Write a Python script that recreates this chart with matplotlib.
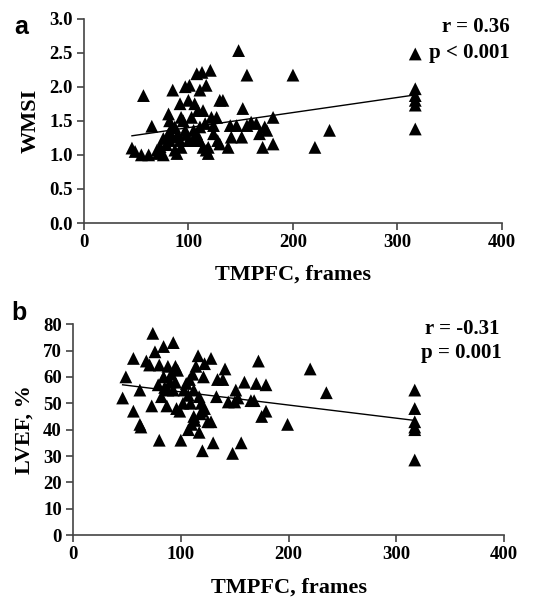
import numpy as np
import matplotlib.pyplot as plt

# panel a: TMPFC (frames) vs WMSI
tmpfc_a = [46, 49, 57, 55, 62, 65, 70, 73, 76, 79, 81, 82, 85, 84, 85, 87, 90, 92, 93, 95,
           97, 98, 100, 101, 103, 105, 106, 108, 109, 111, 113, 114, 116, 117, 119, 121, 122,
           124, 128, 130, 133, 138, 140, 141, 148, 146, 151, 152, 156, 156, 160, 165, 168,
           171, 173, 175, 181, 181, 200, 221, 235, 317, 317, 317, 317, 317, 317,
           89, 76, 81, 82, 87, 92, 97, 100, 108, 111, 114, 117, 119, 124, 111, 130, 109, 93,
           104, 71, 127]
wmsi = [1.10, 1.05, 1.87, 1.00, 1.00, 1.42, 1.07, 1.12, 1.00, 1.15, 1.60, 1.50, 1.95, 1.40,
        1.26, 1.07, 1.30, 1.75, 1.11, 1.50, 2.00, 1.30, 1.80, 2.02, 1.55, 1.36, 1.75, 2.19,
        1.21, 1.95, 2.21, 1.65, 1.46, 2.02, 1.11, 2.24, 1.55, 1.31, 1.21, 1.80, 1.80, 1.11,
        1.43, 1.26, 2.53, 1.43, 1.26, 1.68, 1.43, 2.17, 1.48, 1.46, 1.31, 1.11, 1.41, 1.36,
        1.55, 1.16, 2.17, 1.11, 1.36, 2.48, 1.97, 1.87, 1.80, 1.73, 1.38,
        1.02, 1.24, 1.31, 1.21, 1.41, 1.21, 1.36, 1.21, 1.31, 1.41, 1.11, 1.07, 1.02, 1.43,
        1.21, 1.16, 1.65, 1.55, 1.21, 1.02, 1.55]
fit_a_x = [46, 317]
fit_a_y = [1.28, 1.88]

# panel b: TMPFC (frames) vs LVEF
tmpfc_b = [46, 49, 56, 56, 62, 62, 63, 68, 71, 73, 74, 76, 79, 80, 80, 82, 84, 84, 85, 87,
           88, 90, 91, 93, 93, 95, 96, 97, 99, 100, 102, 103, 105, 107, 108, 110, 111, 113,
           114, 116, 117, 117, 119, 120, 120, 121, 122, 125, 128, 128, 130, 133, 134, 139,
           141, 144, 148, 150, 151, 153, 156, 159, 165, 168, 170, 172, 175, 179, 179, 199,
           220, 235, 317, 317, 317, 317, 317, 317,
           107, 112, 95, 88, 118, 122, 112, 109]
lvef = [52, 60, 67, 47, 55, 42, 41, 66, 64.5, 49, 76.5, 69.5, 57, 64.5, 36, 52.5, 71.5, 60,
        56, 49, 64, 58, 61, 55, 73, 64, 48, 62.5, 47, 36, 50, 55, 57.5, 40, 59, 42, 61, 43.5,
        64, 68, 52.5, 39, 50, 32, 47, 60, 65, 43, 67, 43, 35, 52.5, 59, 59, 63, 50.5, 31,
        50.5, 55, 52, 35, 58, 51, 51, 57.5, 66, 45, 47, 57, 42, 63, 54, 55, 48, 43, 41, 40,
        28.5,
        53, 55, 58, 55, 46, 48, 45, 50]
fit_b_x = [46, 317]
fit_b_y = [57, 43.5]

serif = 'Liberation Serif'
fig = plt.figure(figsize=(5.41, 5.98), dpi=100)


def style_axes(ax):
    for side in ['top', 'right']:
        ax.spines[side].set_visible(False)
    for side in ['left', 'bottom']:
        ax.spines[side].set_linewidth(1.2)
        ax.spines[side].set_color('#444444')
    ax.tick_params(direction='out', length=5, width=1.2, color='#444444', pad=3)
    for lab in ax.get_xticklabels() + ax.get_yticklabels():
        lab.set_fontfamily(serif)
        lab.set_fontweight('bold')
        lab.set_fontsize(13.5)
    ax.set_xlabel('TMPFC, frames', fontfamily=serif, fontweight='bold', fontsize=16, labelpad=10)


def stat_text(x, y, s):
    fig.text(x, y, s, ha='right', va='center', fontfamily=serif, fontweight='bold', fontsize=15)


ax1 = fig.add_axes([0.155, 0.627, 0.773, 0.342])
ax1.scatter(tmpfc_a, wmsi, marker='^', s=85, color='black', edgecolors='none', clip_on=False)
ax1.plot(fit_a_x, fit_a_y, color='black', lw=1)
ax1.set_xlim(0, 400)
ax1.set_ylim(0, 3.0)
ax1.set_xticks([0, 100, 200, 300, 400])
ax1.set_yticks(np.arange(0, 3.01, 0.5))
ax1.set_yticklabels(['%.1f' % v for v in np.arange(0, 3.01, 0.5)])
style_axes(ax1)
ax1.set_ylabel('WMSI', fontfamily=serif, fontweight='bold', fontsize=16, labelpad=6)
stat_text(0.943, 0.955, 'r = 0.36')
stat_text(0.943, 0.911, 'p < 0.001')
fig.text(0.039, 0.955, 'a', fontfamily='Liberation Sans', fontweight='bold', fontsize=18,
         ha='center', va='center')

ax2 = fig.add_axes([0.135, 0.105, 0.797, 0.353])
ax2.scatter(tmpfc_b, lvef, marker='^', s=85, color='black', edgecolors='none', clip_on=False)
ax2.plot(fit_b_x, fit_b_y, color='black', lw=1)
ax2.set_xlim(0, 400)
ax2.set_ylim(0, 80)
ax2.set_xticks([0, 100, 200, 300, 400])
ax2.set_yticks(np.arange(0, 81, 10))
style_axes(ax2)
ax2.set_ylabel('LVEF, %', fontfamily=serif, fontweight='bold', fontsize=16, labelpad=6)
stat_text(0.924, 0.450, 'r = -0.31')
stat_text(0.928, 0.410, 'p = 0.001')
fig.text(0.035, 0.477, 'b', fontfamily='Liberation Sans', fontweight='bold', fontsize=18,
         ha='center', va='center')

fig.savefig('out.png', dpi=100)
